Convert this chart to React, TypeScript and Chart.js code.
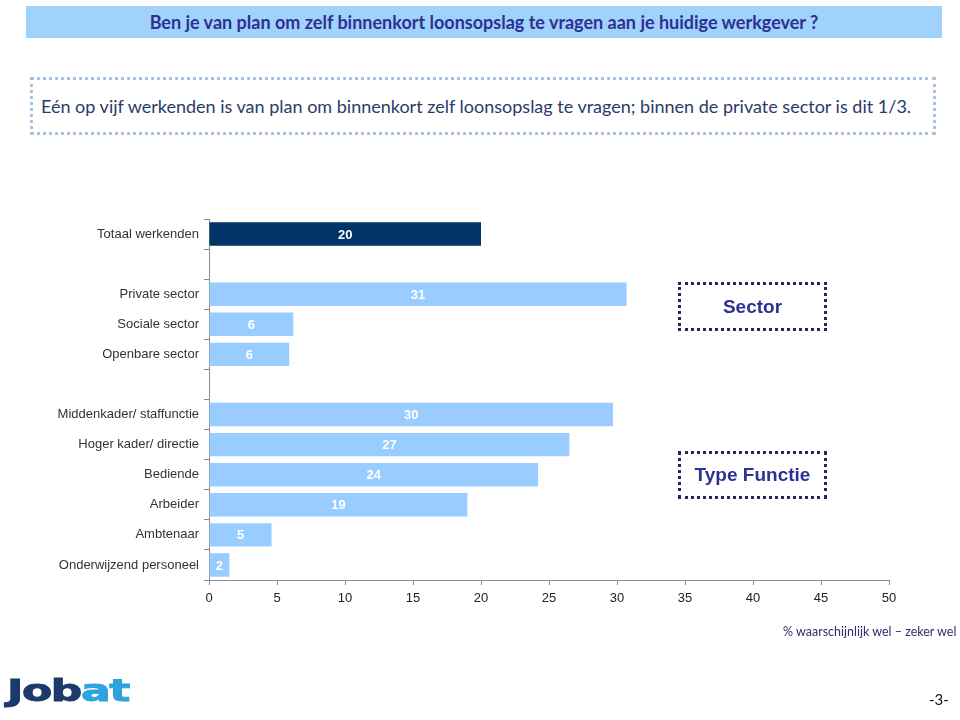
import React, { useEffect, useRef } from "react";
import { Chart, registerables } from "chart.js";

Chart.register(...registerables);

const categories: string[] = [
  "Totaal werkenden",
  "",
  "Private sector",
  "Sociale sector",
  "Openbare sector",
  "",
  "Middenkader/ staffunctie",
  "Hoger kader/ directie",
  "Bediende",
  "Arbeider",
  "Ambtenaar",
  "Onderwijzend personeel",
];
const values: (number | null)[] = [20, null, 30.7, 6.2, 5.9, null, 29.7, 26.5, 24.2, 19.0, 4.6, 1.5];
const valueLabels: string[] = ["20", "", "31", "6", "6", "", "30", "27", "24", "19", "5", "2"];
const isTotal: boolean[] = [true, false, false, false, false, false, false, false, false, false, false, false];
const xMin = 0;
const xMax = 50;
const xStep = 5;

const DARK = "#003366";
const LIGHT = "#99CCFF";
const AXIS = "#8c8c8c";
const LABEL_FONT = "'Liberation Sans', Arial, sans-serif";

const barLabelPlugin = {
  id: "barLabels",
  afterDatasetsDraw(chart: any) {
    const ctx = chart.ctx;
    const meta = chart.getDatasetMeta(0);
    ctx.save();
    ctx.font = `bold 13px ${LABEL_FONT}`;
    ctx.fillStyle = "#ffffff";
    ctx.textAlign = "center";
    ctx.textBaseline = "middle";
    meta.data.forEach((bar: any, i: number) => {
      const t = valueLabels[i];
      if (!t || values[i] == null) return;
      const p = bar.getProps(["x", "base", "y"], true);
      ctx.fillText(t, (p.x + p.base) / 2, p.y + 1);
    });
    ctx.restore();
  },
};

function BarChart() {
  const ref = useRef<HTMLCanvasElement | null>(null);
  useEffect(() => {
    if (!ref.current) return;
    const chart = new Chart(ref.current, {
      type: "bar",
      data: {
        labels: categories,
        datasets: [
          {
            data: values as any,
            backgroundColor: isTotal.map((t) => (t ? DARK : LIGHT)),
            borderWidth: 0,
            categoryPercentage: 1,
            barPercentage: 0.78,
          },
        ],
      },
      options: {
        indexAxis: "y",
        animation: false,
        responsive: false,
        maintainAspectRatio: false,
        layout: { padding: { top: 219, right: 71, bottom: 100, left: 0 } },
        plugins: { legend: { display: false }, tooltip: { enabled: false } },
        scales: {
          x: {
            min: xMin,
            max: xMax,
            ticks: {
              stepSize: xStep,
              color: "#222",
              font: { family: LABEL_FONT, size: 13 },
              padding: 6,
            },
            grid: { drawOnChartArea: false, drawTicks: true, tickLength: 5, color: AXIS },
            border: { color: AXIS, width: 1 },
            afterFit: (s: any) => {
              s.height = 40;
            },
          },
          y: {
            ticks: {
              color: "#333",
              font: { family: LABEL_FONT, size: 13 },
              padding: 5,
              autoSkip: false,
            },
            grid: { drawOnChartArea: false, drawTicks: true, tickLength: 5, color: AXIS, offset: true },
            border: { color: AXIS, width: 1 },
            afterFit: (s: any) => {
              s.width = 209;
            },
          },
        },
      },
      plugins: [barLabelPlugin],
    });
    return () => chart.destroy();
  }, []);
  return (
    <canvas
      ref={ref}
      width={960}
      height={720}
      style={{ position: "absolute", left: 0, top: 0, width: 960, height: 720 }}
    />
  );
}

export default function App() {
  return (
    <div
      style={{
        position: "absolute",
        left: 0,
        top: 0,
        width: 960,
        height: 720,
        background: "#ffffff",
        overflow: "hidden",
      }}
    >
      <div
        style={{
          position: "absolute",
          left: 26,
          top: 6,
          width: 916,
          height: 32,
          background: "#a0d2fc",
          display: "flex",
          alignItems: "center",
          justifyContent: "center",
          fontFamily: "Lato, sans-serif",
          fontWeight: 700,
          fontSize: 18,
          color: "#2e3192",
          whiteSpace: "nowrap",
        }}
      >
        Ben je van plan om zelf binnenkort loonsopslag te vragen aan je huidige werkgever ?
      </div>
      <div
        style={{
          position: "absolute",
          left: 30,
          top: 77,
          width: 906,
          height: 58,
          boxSizing: "border-box",
          border: "3px dotted #a9c1e0",
          display: "flex",
          alignItems: "center",
          paddingLeft: 8,
          fontFamily: "Lato, sans-serif",
          fontSize: 18,
          color: "#2b3a6b",
          whiteSpace: "nowrap",
        }}
      >
        Eén op vijf werkenden is van plan om binnenkort zelf loonsopslag te vragen; binnen de private sector is dit 1/3.
      </div>
      <BarChart />
      <div
        style={{
          position: "absolute",
          left: 678,
          top: 282,
          width: 149,
          height: 49,
          boxSizing: "border-box",
          border: "3px dotted #1e2a5c",
          display: "flex",
          alignItems: "center",
          justifyContent: "center",
          fontFamily: LABEL_FONT,
          fontWeight: 700,
          fontSize: 19,
          color: "#2e3192",
        }}
      >
        Sector
      </div>
      <div
        style={{
          position: "absolute",
          left: 678,
          top: 451,
          width: 149,
          height: 48,
          boxSizing: "border-box",
          border: "3px dotted #1e2a5c",
          display: "flex",
          alignItems: "center",
          justifyContent: "center",
          fontFamily: LABEL_FONT,
          fontWeight: 700,
          fontSize: 19,
          color: "#2e3192",
        }}
      >
        Type Functie
      </div>
      <div
        style={{
          position: "absolute",
          left: 783,
          top: 624,
          whiteSpace: "nowrap",
          fontFamily: "Lato, sans-serif",
          fontSize: 12.5,
          color: "#2e2e6e",
        }}
      >
        % waarschijnlijk wel – zeker wel
      </div>
      <div
        style={{
          position: "absolute",
          left: 7,
          top: 672,
          whiteSpace: "nowrap",
          fontFamily: "'DejaVu Sans', sans-serif",
          fontWeight: 900,
          fontSize: 31,
          letterSpacing: -1,
          transform: "scale(1.42, 1)",
          transformOrigin: "left top",
          WebkitTextStroke: "1px currentColor",
        }}
      >
        <span style={{ color: "#1b3a6b", WebkitTextStroke: "1px #1b3a6b" }}>Job</span>
        <span style={{ color: "#2fa3dc", WebkitTextStroke: "1px #2fa3dc" }}>at</span>
      </div>
      <div
        style={{
          position: "absolute",
          left: 929,
          top: 690,
          fontFamily: "Lato, sans-serif",
          fontSize: 15,
          color: "#111",
        }}
      >
        -3-
      </div>
    </div>
  );
}
